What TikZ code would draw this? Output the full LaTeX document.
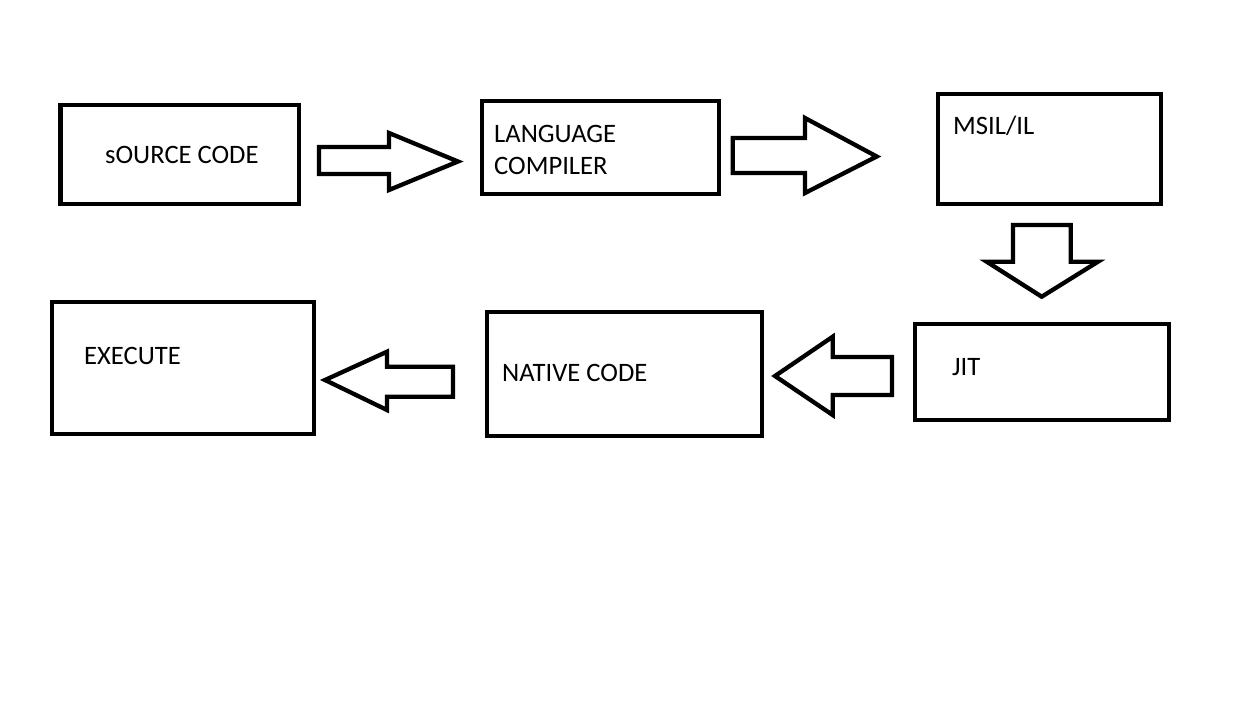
\documentclass[tikz,border=0pt]{standalone}
\usepackage{fontspec}
\setmainfont{Carlito}
\begin{document}
\begin{tikzpicture}[x=1bp,y=-1bp,
  box/.style={draw=black,line width=4.3bp,inner sep=0pt,rectangle},
  lbl/.style={anchor=base west,inner sep=0pt,font=\fontsize{26.6bp}{32bp}\selectfont},
  blockarrow/.style={draw=black,line width=4.3bp,line join=miter,fill=white}]
\useasboundingbox[fill=white] (0,0) rectangle (1248,707);
% boxes
\node[box,minimum width=238.5bp,minimum height=99bp] (src) at (179.75,154.5) {};
\node[box,minimum width=237bp,minimum height=93bp] (comp) at (600.5,147.5) {};
\node[box,minimum width=223bp,minimum height=110bp] (msil) at (1049.5,149) {};
\node[box,minimum width=254bp,minimum height=96bp] (jit) at (1042,372) {};
\node[box,minimum width=275bp,minimum height=124bp] (native) at (624.5,374) {};
\node[box,minimum width=262.3bp,minimum height=132bp] (exec) at (182.85,368) {};
% labels
\node[lbl] (tsrc) at (105,164) {sOURCE CODE};
\node[lbl] (tcomp1) at (494,143) {LANGUAGE};
\node[lbl] (tcomp2) at (494,175) {COMPILER};
\node[lbl] (tmsil) at (953,135) {MSIL/IL};
\node[lbl] (tjit) at (952,375) {JIT};
\node[lbl] (tnative) at (502,381) {NATIVE CODE};
\node[lbl] (texec) at (84,364) {EXECUTE};
% block arrows
\draw[blockarrow] (319,147) -- (389,147) -- (389,133) -- (458,161.5) -- (389,190) -- (389,174) -- (319,174) -- cycle;
\draw[blockarrow] (732.7,138) -- (805,138) -- (805,118) -- (876.7,156.5) -- (805,193) -- (805,173) -- (732.7,173) -- cycle;
\draw[blockarrow] (1013,225) -- (1070.7,225) -- (1070.7,261.7) -- (1098,261.7) -- (1041.7,296.7) -- (986.7,261.7) -- (1013,261.7) -- cycle;
\draw[blockarrow] (892,357) -- (832.7,357) -- (832.7,336.7) -- (775,376) -- (832.7,415) -- (832.7,395) -- (892,395) -- cycle;
\draw[blockarrow] (453,366.7) -- (387,366.7) -- (387,351.7) -- (325,380) -- (387,410) -- (387,396.7) -- (453,396.7) -- cycle;
\end{tikzpicture}
\end{document}
